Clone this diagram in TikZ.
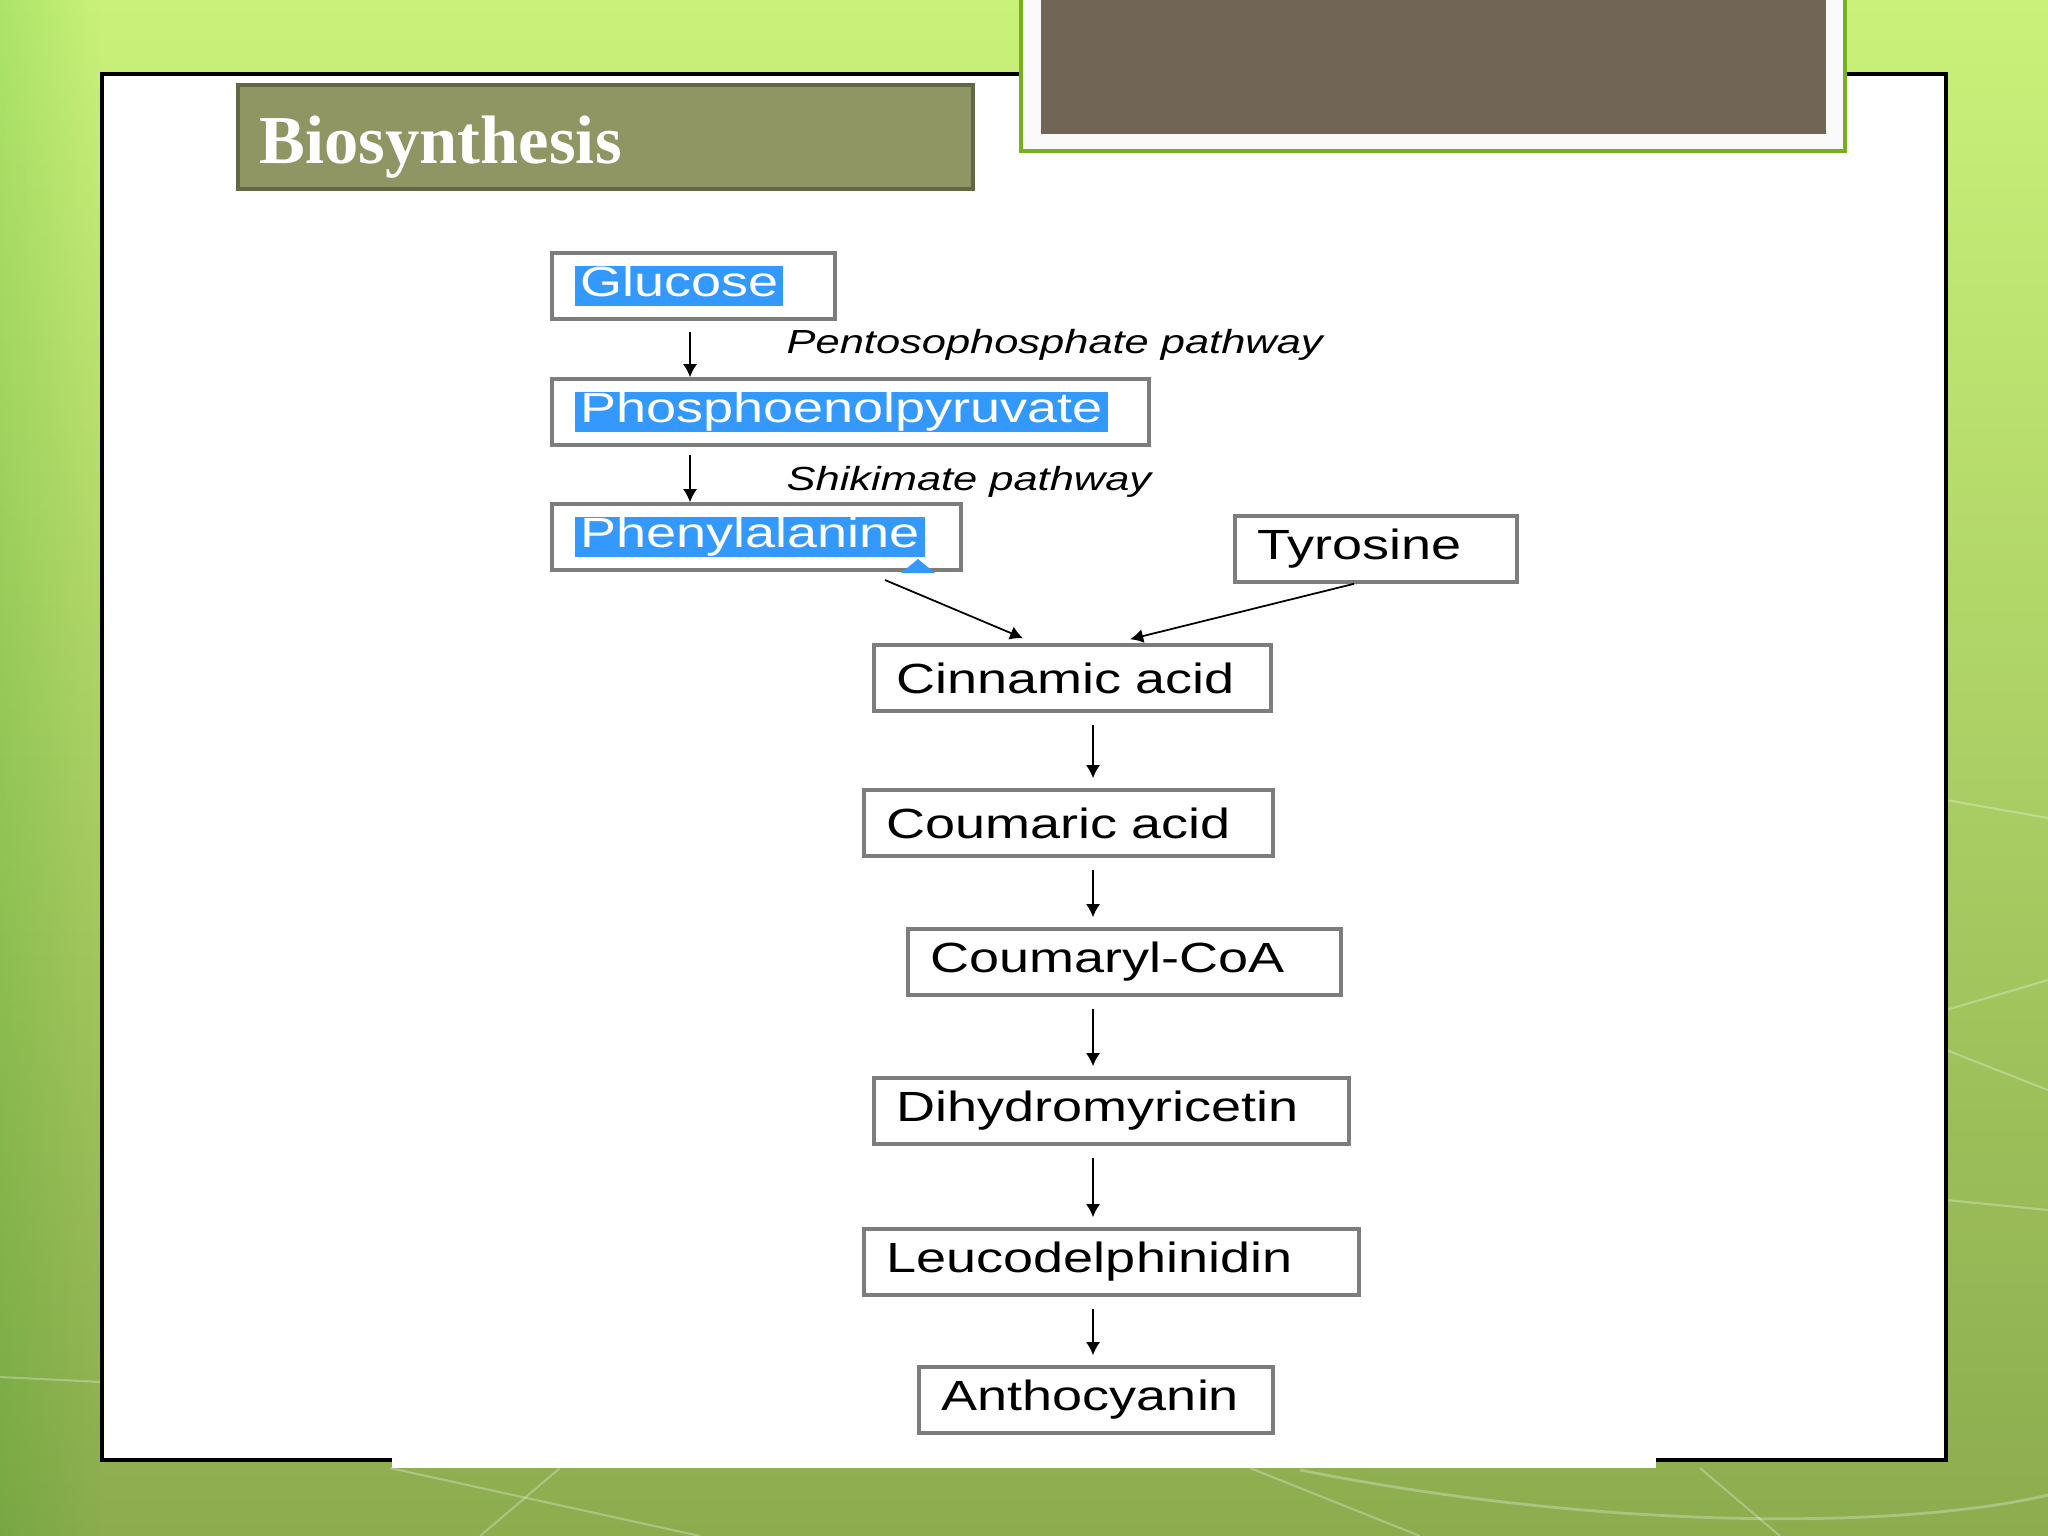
\documentclass[tikz,border=0pt]{standalone}
\usepackage{fontspec}
\usetikzlibrary{arrows.meta,calc,fadings}
\newfontfamily\boxfont[FakeStretch=1.28]{Liberation Sans}
\newfontfamily\pathfont[FakeStretch=1.3]{Liberation Sans Italic}
\newfontfamily\titlefont{Liberation Serif}
\definecolor{selblue}{RGB}{51,153,255}
\definecolor{boxgray}{RGB}{125,125,125}
\definecolor{titleolive}{RGB}{144,149,100}
\definecolor{titleedge}{RGB}{98,104,70}
\definecolor{framebrown}{RGB}{113,102,86}
\definecolor{framegreen}{RGB}{120,175,30}
\definecolor{limetop}{RGB}{202,242,122}
\definecolor{limemid}{RGB}{168,212,92}
\definecolor{limebot}{RGB}{140,172,78}
\newcommand{\selhl}[1]{{\setlength{\fboxsep}{0pt}\colorbox{selblue}{\textcolor{white}{\kern1.5pt#1\kern1.5pt\rule[-2.6pt]{0pt}{11.4pt}}}}}

\begin{document}
\begin{tikzpicture}[x=0.01cm,y=-0.01cm,>=Latex,
  cmpd/.style={draw=boxgray,line width=1pt,fill=white,anchor=west,align=left,
    minimum height=0.66cm,inner xsep=0.23cm,inner ysep=0pt,
    font=\boxfont\fontsize{12}{14}\selectfont},
  flow/.style={-{Latex[length=1.3mm,width=1.4mm]},line width=0.5pt},
  pathlbl/.style={anchor=base west,inner sep=0pt,font=\pathfont\fontsize{9.5}{11}\selectfont}]
\useasboundingbox (0,0) rectangle (2048,1536);
% ---------- slide background ----------
\shade[top color=limetop,middle color=limemid,bottom color=limebot] (0,0) rectangle (2048,1536);
\fill[green!55!black,opacity=0.14,path fading=east] (0,0) rectangle (102,1536);
\foreach \xa/\ya/\xb/\yb in {0/1377/102/1382, 1946/800/2048/818, 1946/1010/2048/980,
    1946/1200/2048/1210, 1946/1050/2048/1090, 390/1468/700/1536, 560/1468/480/1536,
    1250/1468/1420/1536, 1700/1468/1780/1536}
  \draw[white,opacity=0.28,line width=0.6pt] (\xa,\ya) -- (\xb,\yb);
\draw[white,opacity=0.28,line width=0.8pt] (1300,1470) .. controls (1600,1530) and (1900,1530) .. (2048,1495);
% ---------- white panel ----------
\draw[fill=white,line width=0.9pt] (102,74) rectangle (1946,1460);
\fill[white] (392,1455) rectangle (1656,1468);
% ---------- picture frame and title ----------
\draw[fill=white!96!gray,draw=framegreen,line width=1pt] (1021,-5) rectangle (1845,151);
\fill[framebrown] (1041,-5) rectangle (1826,134);
\draw[fill=titleolive,draw=titleedge,line width=1pt] (238,85) rectangle (973,189);
\node[anchor=base west,inner sep=0pt,text=white,font=\titlefont\bfseries\fontsize{19.5}{22}\selectfont] (title) at (259,163) {Biosynthesis};
% ---------- compounds ----------
\node[cmpd,text width=2.37cm] (glc) at (550,286) {\selhl{Glucose}};
\node[cmpd,text width=5.51cm] (pep) at (550,412) {\selhl{Phosphoenolpyruvate}};
\node[cmpd,text width=3.63cm] (phe) at (550,537) {\selhl{Phenylalanine}};
\node[cmpd,text width=2.36cm] (tyr) at (1233,549) {Tyrosine};
\node[cmpd,text width=3.51cm] (cinn) at (872,678) {Cinnamic acid};
\node[cmpd,text width=3.63cm] (coum) at (862,823) {Coumaric acid};
\node[cmpd,text width=3.87cm] (cmcoa) at (906,962) {Coumaryl-CoA};
\node[cmpd,text width=4.29cm] (dhm) at (872,1111) {Dihydromyricetin};
\node[cmpd,text width=4.49cm] (leuco) at (862,1262) {Leucodelphinidin};
\node[cmpd,text width=3.08cm] (antho) at (917,1400) {Anthocyanin};
\fill[selblue] (901,573) -- (935,573) -- (918,559) -- cycle;
% ---------- pathway labels ----------
\node[pathlbl] (ppplbl) at (786,353) {Pentosophosphate pathway};
\node[pathlbl] (shklbl) at (786,490) {Shikimate pathway};
% ---------- arrows ----------
\coordinate (upper) at (690,0);
\coordinate (spine) at (1093,0);
\coordinate (pheout) at (885,580);
\draw[flow,shorten <=0.11cm] (glc.south -| upper) -- (pep.north -| upper);
\draw[flow,shorten <=0.08cm] (pep.south -| upper) -- (phe.north -| upper);
\draw[flow] (pheout) -- ([xshift=1.51cm,yshift=0.05cm]cinn.north west);
\draw[flow] ([xshift=1.21cm]tyr.south west) -- ([xshift=2.58cm,yshift=0.04cm]cinn.north west);
\foreach \a/\b in {cinn/coum, coum/cmcoa, cmcoa/dhm, dhm/leuco, leuco/antho}
  \draw[flow,shorten <=0.12cm,shorten >=0.1cm] (\a.south -| spine) -- (\b.north -| spine);
\end{tikzpicture}
\end{document}
